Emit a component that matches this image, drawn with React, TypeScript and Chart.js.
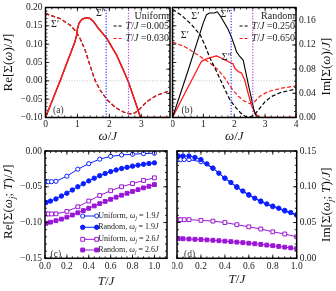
import React, { useEffect, useRef } from 'react';
import { Chart, registerables } from 'chart.js';

Chart.register(...registerables);

const FONT = "'Liberation Serif', 'DejaVu Serif', serif";

// ===== Panel (a): Uniform distribution, Σ(ω) =====
const aOmegaIm = [0, 0.46, 0.92, 0.97, 1.0, 1.05, 1.13, 1.21, 1.29, 1.39, 1.5, 1.65, 1.92, 2.23, 2.4, 2.59, 2.74, 2.87, 2.96, 2.99, 3.9];
const aImT030 = [0, 0.061, 0.125, 0.135, 0.146, 0.156, 0.162, 0.164, 0.165, 0.164, 0.159, 0.148, 0.131, 0.103, 0.083, 0.06, 0.037, 0.017, 0.002, 0, 0];
const aImT005 = [0, 0.061, 0.125, 0.135, 0.146, 0.156, 0.162, 0.164, 0.165, 0.164, 0.159, 0.148, 0.131, 0.103, 0.083, 0.06, 0.037, 0.017, 0.002, 0, 0];
const aOmegaRe = [0, 0.14, 0.45, 0.77, 0.92, 1.08, 1.24, 1.39, 1.55, 1.71, 1.92, 2.18, 2.44, 2.65, 2.81, 2.96, 3.17, 3.49, 3.9];
const aReT030 = [0.184, 0.179, 0.17, 0.152, 0.138, 0.116, 0.084, 0.043, 0.002, -0.025, -0.051, -0.072, -0.085, -0.09, -0.087, -0.076, -0.057, -0.039, -0.027];
const aReT005 = [0.184, 0.179, 0.17, 0.152, 0.138, 0.116, 0.084, 0.043, 0.002, -0.025, -0.051, -0.072, -0.085, -0.09, -0.087, -0.076, -0.057, -0.039, -0.027];

// ===== Panel (b): Random distribution, Σ(ω) =====
const bOmegaImT250 = [0, 0.5, 1.0, 1.1, 1.2, 1.35, 1.45, 1.55, 1.64, 1.8, 1.91, 2.02, 2.07, 2.18, 2.29, 2.36, 2.45, 2.56, 2.64, 2.72, 2.8, 4.0];
const bImT250 = [0, 0.077, 0.157, 0.17, 0.173, 0.173, 0.175, 0.168, 0.16, 0.146, 0.133, 0.117, 0.109, 0.101, 0.095, 0.078, 0.056, 0.031, 0.012, 0.001, 0, 0];
const bOmegaImT650 = [0, 0.4, 0.94, 1.1, 1.42, 1.59, 1.75, 1.86, 1.96, 2.02, 2.13, 2.23, 2.34, 2.45, 2.56, 2.67, 2.83, 4.0];
const bImT650 = [0, 0.04, 0.093, 0.097, 0.102, 0.098, 0.094, 0.091, 0.089, 0.081, 0.076, 0.074, 0.062, 0.04, 0.02, 0.007, 0, 0];
const bOmegaReT250 = [0, 0.3, 0.6, 0.9, 1.05, 1.2, 1.4, 1.55, 1.7, 1.85, 2.0, 2.2, 2.35, 2.5, 2.65, 2.8, 3.0, 3.2, 3.5, 4.0];
const bReT250 = [0.195, 0.178, 0.155, 0.125, 0.097, 0.065, 0.03, 0.003, -0.024, -0.05, -0.068, -0.087, -0.097, -0.099, -0.093, -0.077, -0.057, -0.043, -0.032, -0.022];
const bOmegaReT650 = [0, 0.4, 0.83, 1.16, 1.48, 1.7, 1.91, 2.13, 2.34, 2.5, 2.67, 2.83, 3.1, 3.53, 4.0];
const bReT650 = [0.106, 0.093, 0.07, 0.052, 0.03, 0.007, -0.02, -0.042, -0.056, -0.062, -0.056, -0.042, -0.029, -0.02, -0.014];

// reference frequencies ω_j and zero line
const omegaJ = [1.9, 2.6];
const reRange = [-0.1, 0.2];
const zeroX = [0, 4];
const zeroY = [0, 0];

// ===== Panels (c), (d): temperature dependence at ω_j =====
const tUniform = [0.01, 0.03, 0.06, 0.1, 0.2, 0.3, 0.4, 0.5, 0.6, 0.7, 0.8, 0.9, 1.0];
const tRandom = [0.01, 0.05, 0.1, 0.15, 0.2, 0.25, 0.3, 0.35, 0.4, 0.45, 0.5, 0.55, 0.6, 0.65, 0.7, 0.75, 0.8, 0.85, 0.9, 0.95, 1.0];
const cUni19 = [-0.043, -0.043, -0.0428, -0.0423, -0.0352, -0.0254, -0.0177, -0.0114, -0.0075, -0.0056, -0.0045, -0.0036, -0.0031];
const cRan19 = [-0.072, -0.07, -0.067, -0.063, -0.059, -0.0545, -0.05, -0.0458, -0.0418, -0.038, -0.0345, -0.0315, -0.0288, -0.0265, -0.0245, -0.0228, -0.0212, -0.0198, -0.0186, -0.0175, -0.0166];
const cUni26 = [-0.088, -0.088, -0.088, -0.0878, -0.0845, -0.078, -0.07, -0.0622, -0.0555, -0.05, -0.0455, -0.0412, -0.0375];
const cRan26 = [-0.101, -0.0995, -0.0975, -0.0952, -0.0925, -0.0895, -0.0864, -0.0833, -0.08, -0.0768, -0.0736, -0.0705, -0.0675, -0.0646, -0.0618, -0.0591, -0.0565, -0.054, -0.0516, -0.0493, -0.047];
const dUni19 = [0.138, 0.138, 0.138, 0.138, 0.135, 0.126, 0.112, 0.099, 0.088, 0.079, 0.072, 0.066, 0.06];
const dRan19 = [0.143, 0.143, 0.143, 0.141, 0.138, 0.132, 0.126, 0.119, 0.112, 0.106, 0.1, 0.094, 0.089, 0.084, 0.08, 0.076, 0.073, 0.07, 0.067, 0.064, 0.061];
const dUni26 = [0.054, 0.054, 0.054, 0.054, 0.053, 0.052, 0.05, 0.047, 0.044, 0.041, 0.037, 0.034, 0.03];
const dRan26 = [0.0275, 0.0273, 0.027, 0.0266, 0.0262, 0.0257, 0.0252, 0.0246, 0.024, 0.0233, 0.0226, 0.0219, 0.0211, 0.0203, 0.0194, 0.0185, 0.0176, 0.0166, 0.0156, 0.0146, 0.0135];

// ===== tick values =====
const aXTicks = [0, 1, 2, 3];
const bXTicks = [0, 1, 2, 3, 4];
const reTicks = [-0.1, -0.05, 0, 0.05, 0.1, 0.15, 0.2];
const imTicks = [0, 0.04, 0.08, 0.12, 0.16];
const tTicks = [0, 0.2, 0.4, 0.6, 0.8, 1.0];
const cYTicks = [-0.15, -0.1, -0.05, 0];
const dYTicks = [0, 0.05, 0.1, 0.15];

// ===== styles =====
const RED = '#ff1a1a';
const BLACK = '#000000';
const BLUE = '#0a1eff';
const PURPLE = '#9a16d6';
const VBLUE = '#2a3cff';
const VPURPLE = '#b04ae8';
const DASH = [4, 2.2];
const TICK_COLOR = '#1a1a1a';
const tickFont = { family: FONT, size: 9.5 };

const f0 = (v: number) => String(Math.round(v));
const f1 = (v: number) => (v < -1e-9 ? '\u2212' : '') + Math.abs(v).toFixed(1);
const f2 = (v: number) => (v < -1e-9 ? '\u2212' : '') + Math.abs(v).toFixed(2);

// ---------- rich text ----------
type Seg = { t: string; it: boolean; sub: boolean };
function parseRich(s: string): Seg[] {
  const segs: Seg[] = [];
  for (let i = 0; i < s.length; i++) {
    let ch = s[i];
    let it = 'TJω'.indexOf(ch) >= 0;
    let sub = false;
    if (ch === '_' && i + 1 < s.length) {
      ch = s[i + 1];
      it = true;
      sub = true;
      i++;
    }
    const last = segs[segs.length - 1];
    if (last && last.it === it && last.sub === sub) last.t += ch;
    else segs.push({ t: ch, it, sub });
  }
  return segs;
}
function segFont(g: Seg, size: number) {
  return `${g.it ? 'italic ' : ''}${g.sub ? size * 0.7 : size}px ${FONT}`;
}
function drawRich(ctx: CanvasRenderingContext2D, s: string, x: number, y: number, size: number, align = 'left', color = '#111') {
  const segs = parseRich(s);
  let w = 0;
  const ws = segs.map((g) => {
    ctx.font = segFont(g, size);
    const m = ctx.measureText(g.t).width;
    w += m;
    return m;
  });
  let cx = align === 'left' ? x : align === 'right' ? x - w : x - w / 2;
  ctx.fillStyle = color;
  ctx.textAlign = 'left';
  ctx.textBaseline = 'middle';
  segs.forEach((g, i) => {
    ctx.font = segFont(g, size);
    ctx.fillText(g.t, cx, g.sub ? y + size * 0.28 : y);
    cx += ws[i];
  });
  return w;
}
function richWidth(ctx: CanvasRenderingContext2D, s: string, size: number) {
  let w = 0;
  parseRich(s).forEach((g) => {
    ctx.font = segFont(g, size);
    w += ctx.measureText(g.t).width;
  });
  return w;
}
function drawRichV(ctx: CanvasRenderingContext2D, s: string, x: number, y: number, size: number) {
  ctx.save();
  ctx.translate(x, y);
  ctx.rotate(-Math.PI / 2);
  drawRich(ctx, s, 0, 0, size, 'center');
  ctx.restore();
}

// ---------- helpers ----------
function pts(xs: number[], ys: number[]) {
  return xs.map((x, i) => ({ x, y: ys[i] }));
}
function curve(xs: number[], ys: number[], color: string, yAxisID: string, extra: any = {}) {
  return {
    data: pts(xs, ys),
    yAxisID,
    borderColor: color,
    backgroundColor: color,
    borderWidth: 1.2,
    pointRadius: 0,
    tension: 0,
    fill: false,
    borderJoinStyle: 'round',
    ...extra,
  };
}
function vline(w: number, color: string) {
  return curve([w, w], reRange, color, 'yRe', { borderWidth: 1.2, borderDash: [1.2, 1.6] });
}
function zeroLine() {
  return curve(zeroX, zeroY, '#c4c4c4', 'yRe', { borderWidth: 1, borderDash: [1, 1.6] });
}
function fixedTicks(vals: number[]) {
  return (s: any) => {
    s.ticks = vals.map((v) => ({ value: v }));
  };
}
function xAxis(min: number, max: number, ticks: number[], fmt: (v: number) => string, height: number, pad: number) {
  return {
    type: 'linear',
    position: 'bottom',
    min,
    max,
    grid: { display: false, drawTicks: false },
    border: { display: false },
    afterBuildTicks: fixedTicks(ticks),
    ticks: { font: tickFont, color: TICK_COLOR, padding: pad, autoSkip: false, maxRotation: 0, callback: (v: number) => fmt(v) },
    afterFit: (s: any) => {
      s.height = height;
      s.paddingLeft = 0;
      s.paddingRight = 0;
    },
  };
}
function yAxis(position: string, min: number, max: number, ticks: number[], fmt: (v: number) => string, width: number, show: boolean) {
  return {
    type: 'linear',
    position,
    min,
    max,
    grid: { display: false, drawTicks: false },
    border: { display: false },
    afterBuildTicks: fixedTicks(ticks),
    ticks: { display: show, font: tickFont, color: TICK_COLOR, padding: 3, autoSkip: false, callback: (v: number) => fmt(v) },
    afterFit: (s: any) => {
      s.width = width;
      s.paddingTop = 0;
      s.paddingBottom = 0;
    },
  };
}
function minors(min: number, max: number, step: number) {
  const out: number[] = [];
  const n0 = Math.ceil(min / step - 1e-6);
  const n1 = Math.floor(max / step + 1e-6);
  for (let n = n0; n <= n1; n++) out.push(n * step);
  return out;
}
function framePlugin(cfg: { left: string; right: string; xMinor: number; leftMinor: number; rightMinor: number }) {
  return {
    id: 'frameTicks',
    afterDatasetsDraw(chart: any) {
      const { ctx, chartArea } = chart;
      const { left, right, top, bottom } = chartArea;
      ctx.save();
      ctx.strokeStyle = '#000';
      ctx.lineWidth = 0.8;
      ctx.setLineDash([]);
      const seg = (x1: number, y1: number, x2: number, y2: number) => {
        ctx.beginPath();
        ctx.moveTo(x1, y1);
        ctx.lineTo(x2, y2);
        ctx.stroke();
      };
      const xs = chart.scales.x;
      const doX = (v: number, L: number) => {
        const p = xs.getPixelForValue(v);
        if (p < left - 0.5 || p > right + 0.5) return;
        seg(p, bottom, p, bottom - L);
        seg(p, top, p, top + L);
      };
      xs.ticks.forEach((t: any) => doX(t.value, 3.8));
      minors(xs.min, xs.max, cfg.xMinor).forEach((v) => doX(v, 2));
      const side = (id: string, minor: number, edge: number, dir: number) => {
        const s = chart.scales[id];
        const f = (v: number, L: number) => {
          const p = s.getPixelForValue(v);
          if (p < top - 0.5 || p > bottom + 0.5) return;
          seg(edge, p, edge + dir * L, p);
        };
        s.ticks.forEach((t: any) => f(t.value, 3.8));
        minors(s.min, s.max, minor).forEach((v) => f(v, 2));
      };
      side(cfg.left, cfg.leftMinor, left, 1);
      side(cfg.right, cfg.rightMinor, right, -1);
      ctx.lineWidth = 1.5;
      ctx.strokeRect(left, top, right - left, bottom - top);
      ctx.restore();
    },
  };
}
function decorPlugin(draw: (chart: any, ctx: CanvasRenderingContext2D) => void) {
  return {
    id: 'decor',
    afterDraw(chart: any) {
      const ctx = chart.ctx;
      ctx.save();
      draw(chart, ctx);
      ctx.restore();
    },
  };
}
function dataText(chart: any, yId: string, s: string, x: number, y: number, size = 10) {
  const px = chart.scales.x.getPixelForValue(x);
  const py = chart.scales[yId].getPixelForValue(y);
  drawRich(chart.ctx, s, px, py, size, 'center', '#222');
}
function dashLegend(chart: any, title: string, items: { label: string; color: string }[]) {
  const ctx: CanvasRenderingContext2D = chart.ctx;
  const { right, top } = chart.chartArea;
  const R = right - 1;
  const size = 10;
  drawRich(ctx, title, R, top + 9, size, 'right', '#222');
  const rowsY = [top + 18.5, top + 31];
  items.forEach((it, i) => {
    const w = richWidth(ctx, it.label, size);
    const x0 = R - w;
    ctx.save();
    ctx.strokeStyle = it.color;
    ctx.lineWidth = 1.2;
    ctx.setLineDash([3, 2]);
    ctx.beginPath();
    ctx.moveTo(x0 - 12, rowsY[i]);
    ctx.lineTo(x0 - 2.5, rowsY[i]);
    ctx.stroke();
    ctx.restore();
    drawRich(ctx, it.label, x0, rowsY[i], size, 'left', '#222');
  });
}
const baseOptions = (padding: any, scales: any) => ({
  animation: false,
  responsive: false,
  maintainAspectRatio: false,
  events: [],
  layout: { padding },
  plugins: { legend: { display: false }, tooltip: { enabled: false } },
  scales,
});

// ---------- panel (a) ----------
function buildA(): any {
  return {
    type: 'line',
    data: {
      datasets: [
        vline(omegaJ[0], VBLUE),
        vline(omegaJ[1], VPURPLE),
        curve(aOmegaIm, aImT030, RED, 'yIm', { borderWidth: 1.5, label: 'T/J =0.030' }),
        curve(aOmegaRe, aReT030, RED, 'yRe', { borderDash: DASH, label: 'T/J =0.030' }),
        curve(aOmegaIm, aImT005, BLACK, 'yIm', { label: 'T/J =0.005' }),
        curve(aOmegaRe, aReT005, BLACK, 'yRe', { borderDash: DASH, label: 'T/J =0.005' }),
        zeroLine(),
      ],
    },
    options: baseOptions(
      { top: 7.5, left: 0, right: 0, bottom: 0 },
      {
        x: xAxis(0, 3.9, aXTicks, f0, 28.5, 1.2),
        yRe: yAxis('left', reRange[0], reRange[1], reTicks, f2, 45.5, true),
        yIm: yAxis('right', 0, 0.182, imTicks, f2, 1, false),
      }
    ),
    plugins: [
      framePlugin({ left: 'yRe', right: 'yIm', xMinor: 0.2, leftMinor: 0.01, rightMinor: 0.01 }),
      decorPlugin((chart, ctx) => {
        const { left, right, top, bottom } = chart.chartArea;
        drawRichV(ctx, 'Re[Σ(ω)/J]', 8.5, (top + bottom) / 2, 13);
        drawRich(ctx, 'ω/J', (left + right) / 2, 136.5, 13, 'center', '#222');
        dataText(chart, 'yRe', 'Σ′', 0.3, 0.155);
        dataText(chart, 'yRe', 'Σ″', 1.74, 0.185);
        drawRich(ctx, '(a)', left + 7.5, bottom - 7.5, 9.5, 'left', '#333');
        dashLegend(chart, 'Uniform', [
          { label: 'T/J =0.005', color: BLACK },
          { label: 'T/J =0.030', color: RED },
        ]);
      }),
    ],
  };
}

// ---------- panel (b) ----------
function buildB(): any {
  return {
    type: 'line',
    data: {
      datasets: [
        vline(omegaJ[0], VBLUE),
        vline(omegaJ[1], VPURPLE),
        curve(bOmegaImT250, bImT250, BLACK, 'yIm', { borderWidth: 1.1, label: 'T/J =0.250' }),
        curve(bOmegaImT650, bImT650, RED, 'yIm', { borderWidth: 1.3, label: 'T/J =0.650' }),
        curve(bOmegaReT250, bReT250, BLACK, 'yRe', { borderDash: DASH, label: 'T/J =0.250' }),
        curve(bOmegaReT650, bReT650, RED, 'yRe', { borderDash: DASH, label: 'T/J =0.650' }),
        zeroLine(),
      ],
    },
    options: baseOptions(
      { top: 7.5, left: 0, right: 0, bottom: 0 },
      {
        x: xAxis(0, 4, bXTicks, f0, 28.5, 1.2),
        yRe: yAxis('left', reRange[0], reRange[1], reTicks, f2, 1.5, false),
        yIm: yAxis('right', 0, 0.182, imTicks, f2, 40, true),
      }
    ),
    plugins: [
      framePlugin({ left: 'yRe', right: 'yIm', xMinor: 0.2, leftMinor: 0.01, rightMinor: 0.01 }),
      decorPlugin((chart, ctx) => {
        const { left, right, top, bottom } = chart.chartArea;
        drawRichV(ctx, 'Im[Σ(ω)/J]', 156, (top + bottom) / 2 + 4, 13);
        drawRich(ctx, 'ω/J', (left + right) / 2, 136.5, 13, 'center', '#222');
        dataText(chart, 'yRe', 'Σ′', 0.74, 0.176);
        dataText(chart, 'yRe', 'Σ″', 1.72, 0.182);
        dataText(chart, 'yRe', 'Σ′', 0.4, 0.125);
        dataText(chart, 'yRe', 'Σ″', 1.76, 0.065);
        drawRich(ctx, '(b)', left + 9, bottom - 7.5, 9.5, 'left', '#333');
        dashLegend(chart, 'Random', [
          { label: 'T/J =0.250', color: BLACK },
          { label: 'T/J =0.650', color: RED },
        ]);
      }),
    ],
  };
}

// ---------- panels (c), (d) ----------
const seriesStyle = [
  { label: 'Uniform, ω_j = 1.9J', color: BLUE, style: 'circle', filled: false, r: 2.1, order: 4 },
  { label: 'Random, ω_j = 1.9J', color: BLUE, style: 'circle', filled: true, r: 2.2, order: 3 },
  { label: 'Uniform, ω_j = 2.6J', color: PURPLE, style: 'rect', filled: false, r: 2.7, order: 2 },
  { label: 'Random, ω_j = 2.6J', color: PURPLE, style: 'rect', filled: true, r: 2.7, order: 1 },
];
function markerDs(xs: number[], ys: number[], k: number) {
  const st = seriesStyle[k];
  return curve(xs, ys, st.color, 'y', {
    label: st.label,
    order: st.order,
    borderWidth: 1,
    pointRadius: st.r,
    pointStyle: st.style,
    pointBackgroundColor: st.filled ? st.color : '#ffffff',
    pointBorderColor: st.color,
    pointBorderWidth: 1,
  });
}
function drawMarker(ctx: CanvasRenderingContext2D, x: number, y: number, k: number) {
  const st = seriesStyle[k];
  ctx.beginPath();
  if (st.style === 'circle') ctx.arc(x, y, st.r, 0, Math.PI * 2);
  else {
    const h = st.r * Math.SQRT1_2;
    ctx.rect(x - h, y - h, 2 * h, 2 * h);
  }
  ctx.fillStyle = st.filled ? st.color : '#fff';
  ctx.fill();
  ctx.lineWidth = 1;
  ctx.strokeStyle = st.color;
  ctx.stroke();
}
function buildC(): any {
  return {
    type: 'line',
    data: {
      datasets: [
        markerDs(tUniform, cUni19, 0),
        markerDs(tRandom, cRan19, 1),
        markerDs(tUniform, cUni26, 2),
        markerDs(tRandom, cRan26, 3),
      ],
    },
    options: baseOptions(
      { top: 5, left: 0, right: 1, bottom: 0 },
      {
        x: xAxis(0, 1.115, tTicks, f1, 32.7, 2),
        y: yAxis('left', -0.15, 0, cYTicks, f2, 45, true),
      }
    ),
    plugins: [
      framePlugin({ left: 'y', right: 'y', xMinor: 0.05, leftMinor: 0.01, rightMinor: 0.01 }),
      decorPlugin((chart, ctx) => {
        const { left, right, top, bottom } = chart.chartArea;
        drawRichV(ctx, 'Re[Σ(ω_j; T)/J]', 8.5, (top + bottom) / 2 - 3, 13);
        drawRich(ctx, 'T/J', (left + right) / 2, 135.5, 13, 'center', '#222');
        drawRich(ctx, '(c)', left + 5.5, bottom - 4, 9.5, 'left', '#333');
        const rows = [bottom - 42.3, bottom - 31, bottom - 19, bottom - 8.3];
        seriesStyle.forEach((st, k) => {
          const y = rows[k];
          const x0 = left + 37.7;
          const x1 = left + 51.7;
          ctx.strokeStyle = st.color;
          ctx.lineWidth = 1;
          ctx.beginPath();
          ctx.moveTo(x0, y);
          ctx.lineTo(x1, y);
          ctx.stroke();
          drawMarker(ctx, x0, y, k);
          drawMarker(ctx, x1, y, k);
          drawRich(ctx, st.label, x1 + 1.5, y, 8, 'left', '#222');
        });
      }),
    ],
  };
}
function buildD(): any {
  return {
    type: 'line',
    data: {
      datasets: [
        markerDs(tUniform, dUni19, 0),
        markerDs(tRandom, dRan19, 1),
        markerDs(tUniform, dUni26, 2),
        markerDs(tRandom, dRan26, 3),
      ],
    },
    options: baseOptions(
      { top: 5, left: 1, right: 0, bottom: 0 },
      {
        x: xAxis(0, 1, tTicks, f1, 32.7, 2),
        y: yAxis('right', 0, 0.15, dYTicks, f2, 39.3, true),
      }
    ),
    plugins: [
      framePlugin({ left: 'y', right: 'y', xMinor: 0.05, leftMinor: 0.01, rightMinor: 0.01 }),
      decorPlugin((chart, ctx) => {
        const { left, right, top, bottom } = chart.chartArea;
        drawRichV(ctx, 'Im[Σ(ω_j; T)/J]', 155, (top + bottom) / 2, 13);
        drawRich(ctx, 'T/J', (left + right) / 2, 134, 13, 'center', '#222');
        drawRich(ctx, '(d)', left + 7, bottom - 4, 9.5, 'left', '#333');
      }),
    ],
  };
}

function ChartCanvas({ left, top, width, height, build }: { left: number; top: number; width: number; height: number; build: () => any }) {
  const ref = useRef<HTMLCanvasElement>(null);
  useEffect(() => {
    const chart = new Chart(ref.current as HTMLCanvasElement, build());
    return () => chart.destroy();
  }, [build]);
  return (
    <canvas
      ref={ref}
      width={width}
      height={height}
      style={{ position: 'absolute', left, top, width, height, display: 'block' }}
    />
  );
}

export default function App() {
  return (
    <div style={{ position: 'fixed', left: 0, top: 0, width: 336, height: 291, background: '#fff', overflow: 'hidden' }}>
      <ChartCanvas left={0} top={0} width={171} height={146} build={buildA} />
      <ChartCanvas left={171} top={0} width={165} height={146} build={buildB} />
      <ChartCanvas left={0} top={146} width={172} height={145} build={buildC} />
      <ChartCanvas left={172} top={146} width={164} height={145} build={buildD} />
    </div>
  );
}
